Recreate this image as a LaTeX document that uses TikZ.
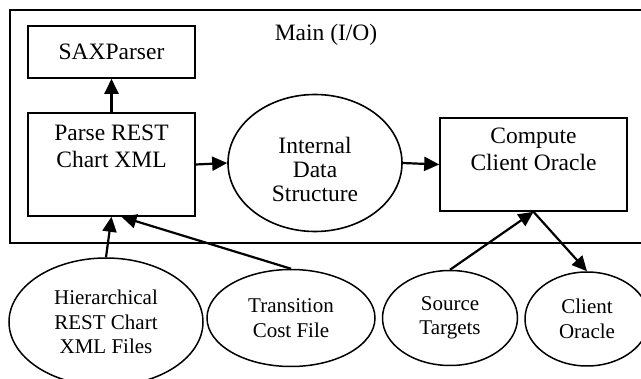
\documentclass[tikz,border=0pt]{standalone}
\usepackage{fontspec}
\setmainfont{Liberation Serif}
\usetikzlibrary{arrows.meta,shapes.geometric}

\begin{document}
\begin{tikzpicture}[
  x=1pt, y=-1pt,
  box/.style={rectangle, draw, line width=1.6pt, inner sep=0pt, align=center,
              font=\fontsize{23.5}{27}\selectfont},
  oval/.style={ellipse, draw, line width=1.5pt, inner sep=0pt, align=center,
               font=\fontsize{21}{24.5}\selectfont},
  arr/.style={-{Triangle[length=15pt,width=14pt]}, line width=2.2pt},
]
\useasboundingbox (0,0) rectangle (641,379);

%% ---- main frame ----
\draw[line width=1.6pt] (10,10) rectangle (660,243);
\node[font=\fontsize{23.5}{27}\selectfont] (mainlbl) at (326,35) {Main (I/O)};

%% ---- inside main ----
\node[box, minimum width=167pt, minimum height=52pt] (sax) at (111.5,52) {SAXParser};
\node[box, minimum width=167pt, minimum height=103pt] (parse) at (111.5,164.5)
  {Parse REST\\Chart XML\\[10pt]};
\node[oval, line width=1.6pt, minimum width=174pt, minimum height=137pt,
      font=\fontsize{23.5}{24}\selectfont] (ids) at (315,163)
  {\\[6pt]Internal\\Data\\Structure};
\node[box, minimum width=187pt, minimum height=93pt] (compute) at (533.5,164.5)
  {Compute\\Client Oracle\\[4pt]};

%% ---- outside inputs / outputs ----
\node[oval, minimum width=194pt, minimum height=128pt] (hier) at (106,322)
  {Hierarchical\\REST Chart\\XML Files};
\node[oval, minimum width=168pt, minimum height=97pt] (trans) at (291,318)
  {Transition\\Cost File};
\node[oval, minimum width=135pt, minimum height=95pt] (src) at (450,318)
  {Source\\Targets};
\node[oval, minimum width=124pt, minimum height=94pt] (oracle) at (587,319)
  {Client\\Oracle};

%% ---- arrows ----
\draw[arr] (parse.north) -- (sax.south);
\draw[arr] (parse.east) -- (ids.west);
\draw[arr] (ids.east) -- (compute.west);
\draw[arr] (hier.north) -- (parse.south);
\draw[arr] (trans.north) -- ([xshift=10pt]parse.south);
\draw[arr] (src.north) -- (compute.south);
\draw[arr] (compute.south) -- (oracle.north);

\end{tikzpicture}
\end{document}
